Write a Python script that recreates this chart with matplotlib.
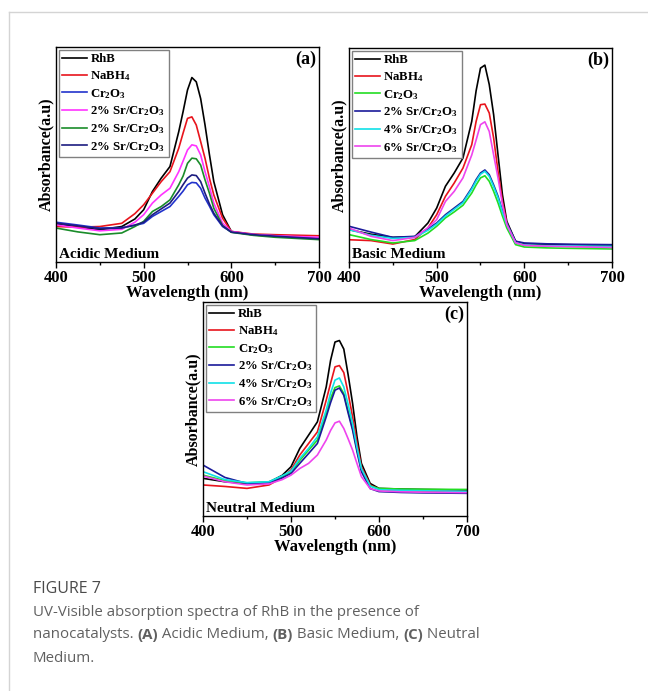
import matplotlib
matplotlib.use("Agg")
import matplotlib.pyplot as plt
from matplotlib.lines import Line2D

plt.rcParams["font.family"] = "Liberation Serif"
plt.rcParams["font.weight"] = "bold"
plt.rcParams["mathtext.fontset"] = "custom"
plt.rcParams["mathtext.rm"] = "Liberation Serif:bold"
plt.rcParams["mathtext.it"] = "Liberation Serif:italic:bold"
plt.rcParams["mathtext.bf"] = "Liberation Serif:bold"
plt.rcParams["mathtext.default"] = "rm"

wl = [400, 425, 450, 475, 490, 500, 510, 520, 530, 540, 545, 550, 555,
      560, 565, 570, 575, 580, 590, 600, 625, 650, 700]

# (a) acidic medium, absorbance (a.u., relative)
a_rhb = [.176, .163, .150, .165, .200, .243, .328, .390, .444, .606, .700, .800, .858,
         .838, .760, .637, .500, .374, .220, .142, .126, .119, .111]
a_nabh4 = [.165, .162, .165, .180, .225, .266, .320, .374, .420, .529, .600, .668, .675,
           .637, .560, .482, .390, .312, .204, .142, .130, .127, .122]
a_cr2o3 = [.185, .172, .158, .160, .170, .180, .212, .235, .258, .305, .330, .359, .370,
           .368, .343, .297, .260, .220, .165, .139, .128, .122, .108]
a_sr_1 = [.173, .158, .145, .152, .185, .220, .274, .312, .343, .420, .470, .521, .545,
          .540, .498, .420, .350, .274, .181, .142, .128, .122, .115]
a_sr_2 = [.158, .140, .127, .135, .165, .189, .235, .258, .289, .359, .400, .459, .483,
          .480, .451, .382, .320, .250, .170, .138, .124, .115, .104]
a_sr_3 = [.181, .168, .155, .158, .172, .185, .220, .247, .274, .328, .360, .390, .405,
          .402, .374, .320, .270, .227, .168, .139, .127, .120, .108]

# (b) basic medium
b_rhb = [.151, .130, .115, .118, .182, .252, .354, .416, .486, .657, .800, .906, .920,
         .829, .688, .500, .315, .190, .097, .084, .082, .081, .076]
b_nabh4 = [.104, .100, .084, .105, .159, .221, .307, .369, .439, .548, .657, .735, .738,
           .696, .579, .424, .283, .182, .090, .078, .075, .073, .070]
b_cr2o3 = [.128, .105, .089, .100, .135, .167, .206, .234, .265, .322, .360, .393, .403,
           .377, .330, .276, .215, .159, .081, .070, .066, .064, .061]
b_sr2 = [.167, .140, .115, .120, .155, .182, .221, .252, .283, .346, .385, .416, .430,
         .408, .360, .307, .240, .182, .097, .089, .085, .083, .081]
b_sr4 = [.151, .125, .110, .115, .148, .177, .215, .246, .277, .340, .378, .410, .424,
         .400, .352, .300, .234, .175, .090, .080, .076, .075, .073]
b_sr6 = [.159, .120, .100, .115, .160, .198, .283, .330, .393, .500, .570, .642, .655,
         .610, .500, .393, .270, .175, .090, .078, .074, .072, .068]

# (c) neutral medium
c_rhb = [.176, .160, .152, .158, .190, .230, .316, .378, .440, .603, .728, .813, .820,
         .780, .658, .526, .370, .246, .152, .129, .126, .124, .121]
c_nabh4 = [.145, .138, .129, .145, .180, .215, .285, .339, .393, .541, .620, .697, .703,
           .670, .572, .463, .340, .230, .145, .125, .120, .117, .114]
c_cr2o3 = [.191, .165, .155, .160, .185, .205, .260, .308, .355, .479, .550, .600, .608,
           .572, .490, .409, .310, .215, .140, .129, .126, .125, .124]
c_sr2 = [.238, .180, .152, .155, .178, .199, .246, .292, .339, .463, .530, .588, .598,
         .564, .480, .401, .300, .207, .128, .114, .110, .108, .106]
c_sr4 = [.207, .170, .156, .160, .188, .210, .269, .316, .370, .495, .575, .635, .645,
         .603, .520, .432, .320, .222, .140, .123, .120, .118, .115]
c_sr6 = [.187, .160, .145, .150, .170, .191, .222, .246, .285, .355, .400, .435, .443,
         .409, .360, .308, .245, .184, .128, .117, .113, .111, .109]

cr = "Cr$_2$O$_3$"
labels_a = ["RhB", "NaBH$_4$", cr, "2% Sr/" + cr, "2% Sr/" + cr, "2% Sr/" + cr]
labels_bc = ["RhB", "NaBH$_4$", cr, "2% Sr/" + cr, "4% Sr/" + cr, "6% Sr/" + cr]
colors_a = ["black", "#e8141c", "#2233cc", "#ff33ff", "#1a8c2a", "#1c1c80"]
colors_bc = ["black", "#e8141c", "#22dd22", "#1a1a9a", "#11e0e8", "#ee44ee"]

fig = plt.figure(figsize=(6.48, 6.91), dpi=100)


def panel(rect, series, labels, colors, tag, medium):
    ax = fig.add_axes(rect)
    for ys, lab, col in zip(series, labels, colors):
        ax.plot(wl, ys, color=col, lw=1.2, label=lab)
    ax.set_xlim(400, 700)
    ax.set_ylim(0, 1)
    ax.set_yticks([])
    ax.set_xticks([400, 500, 600, 700])
    ax.set_xticks([450, 550, 650], minor=True)
    ax.tick_params(axis="x", which="major", direction="out", length=4, width=1,
                   labelsize=12, pad=1.5)
    ax.tick_params(axis="x", which="minor", direction="out", length=2, width=1)
    for s in ax.spines.values():
        s.set_linewidth(1.0)
    ax.set_xlabel("Wavelength (nm)", fontsize=12, fontweight="bold", labelpad=-0.5)
    ax.set_ylabel("Absorbance(a.u)", fontsize=11.5, fontweight="bold", labelpad=1)
    ax.text(0.99, 0.985, tag, transform=ax.transAxes, ha="right", va="top",
            fontsize=13, fontweight="bold")
    ax.text(0.01, 0.005, medium, transform=ax.transAxes, ha="left", va="bottom",
            fontsize=11, fontweight="bold")
    leg = ax.legend(loc="upper left", fontsize=9.2, frameon=True, fancybox=False,
                    edgecolor="#808080", framealpha=1, handlelength=1.9,
                    handletextpad=0.3, labelspacing=0.3, borderpad=0.3,
                    borderaxespad=0.2)
    leg.get_frame().set_linewidth(1.0)
    return ax


W, H = 648, 691


def rect(l, t, r, b):
    return [l / W, 1 - b / H, (r - l) / W, (b - t) / H]


panel(rect(56, 47, 319, 262), [a_rhb, a_nabh4, a_cr2o3, a_sr_1, a_sr_2, a_sr_3],
      labels_a, colors_a, "(a)", "Acidic Medium")
panel(rect(349, 48, 612, 262), [b_rhb, b_nabh4, b_cr2o3, b_sr2, b_sr4, b_sr6],
      labels_bc, colors_bc, "(b)", "Basic Medium")
panel(rect(203, 302, 467, 516), [c_rhb, c_nabh4, c_cr2o3, c_sr2, c_sr4, c_sr6],
      labels_bc, colors_bc, "(c)", "Neutral Medium")

# thin page frame
fig.add_artist(Line2D([9 / W, 1], [1 - 12 / H, 1 - 12 / H], transform=fig.transFigure,
                      color="#d4d4d4", lw=1))
fig.add_artist(Line2D([9 / W, 9 / W], [1 - 12 / H, 0], transform=fig.transFigure,
                      color="#d4d4d4", lw=1))

# caption, with bold runs placed one after another
cap = dict(family="Open Sans", fontsize=10.8, color="#606060", va="center")
fig.text(33 / W, 1 - 589 / H, "FIGURE 7", fontweight="medium", fontsize=11.5,
         family="Open Sans", color="#4a4a4a", va="center")

lines = [
    [("UV-Visible absorption spectra of RhB in the presence of", "normal")],
    [("nanocatalysts. ", "normal"), ("(A)", "bold"), (" Acidic Medium, ", "normal"),
     ("(B)", "bold"), (" Basic Medium, ", "normal"), ("(C)", "bold"), (" Neutral", "normal")],
    [("Medium.", "normal")],
]
line_y = [613, 635, 658]
renderer = fig.canvas.get_renderer()
for runs, y in zip(lines, line_y):
    x = 33.0
    for txt, wt in runs:
        t = fig.text(x / W, 1 - y / H, txt, fontweight=wt, **cap)
        bb = t.get_window_extent(renderer)
        x += bb.width

fig.savefig("out.png", dpi=100)
